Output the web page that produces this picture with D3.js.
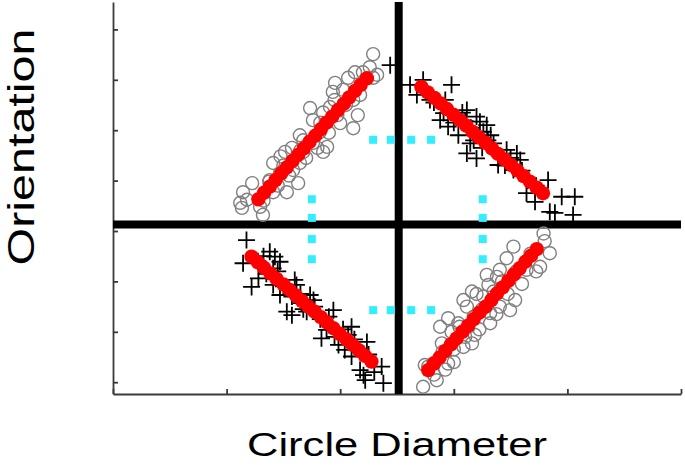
<!DOCTYPE html>
<meta charset="utf-8">
<style>
    body {
        margin: 0;
        padding: 0;
        background: #fff;
        font-family: "Liberation Sans", Arial, sans-serif;
    }

    svg {
        display: block;
    }

    .axis path,
    .axis line {
        stroke: #3a3a3a;
        stroke-width: 1.8px;
    }
</style>
<svg width="685" height="467"></svg>
<script src="https://d3js.org/d3.v7.min.js"></script>
<script>
    // ---- data (diameter 0..100, orientation in axis units) ----
    var xTicks = [0, 20, 40, 60, 80, 100];
    var yTicks = [-30, -20, -10, 0, 10, 20, 30, 40];
    var crossX = 50.3;
    var crossY = 1.3;

    // upper left: open grey circles
    var q2Circles = [
        [45.8, 35.1], [45.2, 32.5], [45.8, 30.4], [42.6, 31.5], [41.4, 30.4], [39.1, 29.4],
        [38.7, 27.6], [42.3, 26.0], [43.1, 23.0], [42.3, 20.4], [40.0, 21.4], [38.2, 24.6],
        [34.7, 24.4], [35.2, 22.0], [36.4, 19.6], [32.9, 19.0], [37.7, 16.7], [37.0, 15.7],
        [35.2, 17.5], [31.5, 16.5], [30.3, 15.7], [33.5, 15.7], [28.2, 13.5], [32.9, 13.5],
        [31.7, 12.1], [29.4, 11.5], [32.6, 9.5], [30.6, 7.7], [27.6, 10.1], [28.2, 7.7],
        [24.5, 9.5], [22.9, 7.7], [22.4, 5.6], [22.7, 4.6], [25.9, 4.8], [26.4, 3.2], [23.6, 6.2],
        [26.5, 6.0], [27.5, 9.8], [29.0, 9.0], [30.0, 13.0], [31.0, 11.0], [33.5, 18.0],
        [34.0, 14.5], [36.0, 16.5], [36.5, 21.5], [38.0, 19.5], [39.5, 23.0], [41.0, 25.0],
        [40.5, 28.0], [43.5, 27.0], [44.0, 31.5], [46.5, 31.0], [33.0, 16.0], [29.5, 14.8],
        [39.0, 26.0], [37.0, 23.5]
    ];
    var q2Fit = [
        [25.6, 6.3], [26.6, 7.6], [27.6, 8.8], [28.6, 10.1], [29.6, 11.4], [30.6, 12.6], [31.6, 13.9],
        [32.6, 15.1], [33.6, 16.4], [34.6, 17.7], [35.6, 18.9], [36.6, 20.2], [37.6, 21.5], [38.6, 22.7],
        [39.6, 24.0], [40.6, 25.2], [41.6, 26.5], [42.6, 27.8], [43.6, 29.0], [44.7, 30.3]
    ];

    // upper right: black crosses
    var q1Plus = [
        [48.8, 32.9], [52.3, 29.0], [54.6, 30.0], [59.6, 29.0], [55.8, 26.0], [57.6, 22.0],
        [59.0, 20.7], [62.3, 24.0], [64.0, 22.7], [64.6, 21.7], [65.8, 21.0], [60.8, 19.0],
        [62.9, 17.4], [62.3, 15.4], [64.0, 14.4], [67.0, 17.4], [67.8, 13.1], [69.3, 16.1],
        [71.1, 15.4], [71.7, 14.1], [70.5, 12.1], [76.6, 10.1], [72.8, 7.5], [74.3, 5.8],
        [79.0, 6.8], [81.3, 6.8], [81.0, 3.2], [76.9, 3.8], [58.2, 23.4], [65.2, 19.7], [77.8, 3.6],
        [56.5, 25.5], [58.5, 26.0], [60.0, 21.5], [61.5, 23.5], [63.0, 20.5], [63.5, 18.0],
        [65.0, 16.5], [66.5, 19.0], [68.0, 15.0], [69.0, 13.0], [70.0, 14.5], [72.0, 12.0],
        [73.0, 10.0], [74.5, 9.0], [53.5, 27.0], [62.0, 21.8], [66.0, 18.0]
    ];
    var q1Fit = [
        [54.3, 28.6], [55.4, 27.5], [56.6, 26.4], [57.7, 25.3], [58.8, 24.2], [59.9, 23.1], [61.1, 22.0],
        [62.2, 20.9], [63.3, 19.7], [64.4, 18.6], [65.6, 17.5], [66.7, 16.4], [67.8, 15.3], [68.9, 14.2],
        [70.1, 13.1], [71.2, 12.0], [72.3, 10.9], [73.4, 9.8], [74.6, 8.6], [75.7, 7.5]
    ];

    // lower left: black crosses
    var q3Plus = [
        [23.5, -1.8], [22.9, -6.4], [24.4, -11.1], [25.6, -9.4], [27.6, -4.1], [28.5, -5.1],
        [29.4, -6.1], [28.2, -7.4], [28.2, -10.7], [29.4, -12.7], [32.0, -9.7], [32.3, -10.7],
        [30.6, -16.0], [31.5, -16.7], [33.2, -14.3], [34.7, -12.7], [35.3, -13.7], [34.1, -16.0],
        [36.7, -21.3], [38.8, -15.7], [37.6, -19.6], [42.0, -19.0], [41.4, -20.6], [39.7, -22.6],
        [40.8, -23.6], [44.7, -22.0], [42.0, -24.9], [43.5, -27.6], [44.1, -28.6], [47.3, -26.9],
        [47.6, -30.2], [44.4, -29.6],
        [25.5, -6.0], [27.0, -8.5], [29.0, -8.0], [30.0, -11.0], [31.5, -13.0], [33.0, -12.5],
        [33.5, -15.5], [35.5, -15.0], [36.5, -17.5], [38.0, -17.0], [39.0, -21.0], [40.5, -19.5],
        [42.5, -21.5], [43.5, -24.0], [45.0, -24.5], [46.0, -28.0], [26.5, -5.0]
    ];
    var q3Fit = [
        [24.4, -5.1], [25.5, -6.2], [26.6, -7.3], [27.7, -8.4], [28.8, -9.5], [30.0, -10.6], [31.1, -11.7],
        [32.2, -12.8], [33.3, -13.9], [34.4, -15.0], [35.5, -16.0], [36.6, -17.1], [37.7, -18.2], [38.8, -19.3],
        [39.9, -20.4], [41.1, -21.5], [42.2, -22.6], [43.3, -23.7], [44.4, -24.8], [45.5, -25.9]
    ];

    // lower right: open grey circles
    var q4Circles = [
        [75.8, -0.5], [76.9, -4.4], [75.2, -7.1], [70.5, -3.1], [69.3, -5.4], [68.1, -7.7],
        [67.6, -9.1], [66.1, -10.7], [63.2, -12.0], [61.7, -13.7], [62.3, -15.0], [65.2, -13.0],
        [70.8, -13.7], [69.9, -15.7], [68.1, -15.0], [66.4, -16.3], [66.4, -18.3], [62.6, -19.0],
        [63.7, -20.6], [61.7, -23.0], [63.2, -22.3], [59.0, -17.3], [57.6, -19.0], [59.6, -20.0],
        [57.9, -22.3], [59.0, -26.3], [56.4, -26.3], [57.0, -29.6], [54.6, -30.9], [55.5, -26.9],
        [54.9, -26.6], [65.8, -8.7], [72.8, -7.7], [60.8, -18.3],
        [56.5, -28.5], [58.0, -24.0], [58.5, -27.5], [60.0, -23.5], [61.0, -19.0], [62.0, -21.0],
        [63.5, -17.0], [64.5, -19.5], [65.0, -15.5], [67.0, -12.0], [67.5, -16.5], [68.5, -10.0],
        [69.5, -12.5], [71.0, -8.0], [72.0, -10.5], [73.5, -4.5], [74.5, -8.0], [76.0, -2.0],
        [60.0, -26.0], [64.0, -12.5]
    ];
    var q4Fit = [
        [55.5, -27.6], [56.5, -26.3], [57.5, -25.1], [58.5, -23.8], [59.5, -22.5], [60.5, -21.3], [61.5, -20.0],
        [62.5, -18.8], [63.5, -17.5], [64.5, -16.2], [65.6, -15.0], [66.6, -13.7], [67.6, -12.4], [68.6, -11.2],
        [69.6, -9.9], [70.6, -8.6], [71.6, -7.4], [72.6, -6.1], [73.6, -4.9], [74.6, -3.6]
    ];

    // cyan dotted frame
    var cyanDots = [
        [45.8, 18.1], [48.9, 18.1], [52.5, 18.1], [56.0, 18.1],
        [45.8, -15.7], [48.9, -15.7], [52.5, -15.7], [56.0, -15.7],
        [35.0, 6.3], [35.0, 2.6], [35.0, -1.6], [35.0, -5.6],
        [65.1, 6.3], [65.1, 2.6], [65.1, -1.6], [65.1, -5.6]
    ];

    // ---- drawing ----
    var svg = d3.select("svg");

    var x = d3.scaleLinear().domain([0, 100]).range([113, 681]);
    var y = d3.scaleLinear().domain([-32.34, 45.44]).range([394, 2]);

    svg.append("g")
        .attr("class", "axis")
        .attr("transform", "translate(0," + y.range()[0] + ")")
        .call(d3.axisBottom(x).tickValues(xTicks).tickSize(-5).tickSizeOuter(0).tickFormat(""));

    svg.append("g")
        .attr("class", "axis")
        .attr("transform", "translate(" + x.range()[0] + ",0)")
        .call(d3.axisLeft(y).tickValues(yTicks).tickSize(-5).tickSizeOuter(0).tickFormat(""));

    // thick cross lines
    svg.append("line")
        .attr("x1", x(crossX)).attr("x2", x(crossX))
        .attr("y1", y.range()[1]).attr("y2", y.range()[0])
        .attr("stroke", "#000").attr("stroke-width", 8);

    svg.append("line")
        .attr("x1", x.range()[0]).attr("x2", x.range()[1])
        .attr("y1", y(crossY)).attr("y2", y(crossY))
        .attr("stroke", "#000").attr("stroke-width", 8);

    // cyan squares
    svg.append("g").selectAll("rect")
        .data(cyanDots)
        .enter().append("rect")
        .attr("x", function(d) { return x(d[0]) - 4; })
        .attr("y", function(d) { return y(d[1]) - 4; })
        .attr("width", 8)
        .attr("height", 8)
        .attr("fill", "#33eeff");

    // grey circles
    svg.append("g").selectAll("circle")
        .data(q2Circles.concat(q4Circles))
        .enter().append("circle")
        .attr("cx", function(d) { return x(d[0]); })
        .attr("cy", function(d) { return y(d[1]); })
        .attr("r", 6.5)
        .attr("fill", "none")
        .attr("stroke", "#808080")
        .attr("stroke-width", 1.4);

    // black crosses
    svg.append("g").selectAll("path")
        .data(q1Plus.concat(q3Plus))
        .enter().append("path")
        .attr("transform", function(d) { return "translate(" + x(d[0]) + "," + y(d[1]) + ")"; })
        .attr("d", "M-8.5,0H8.5M0,-8.5V8.5")
        .attr("stroke", "#000")
        .attr("stroke-width", 1.8);

    // red fitted points
    svg.append("g").selectAll("circle")
        .data(q2Fit.concat(q1Fit, q3Fit, q4Fit))
        .enter().append("circle")
        .attr("cx", function(d) { return x(d[0]); })
        .attr("cy", function(d) { return y(d[1]); })
        .attr("r", 7.2)
        .attr("fill", "#ff0000");

    // axis titles
    svg.append("text")
        .attr("x", 397)
        .attr("y", 456)
        .attr("text-anchor", "middle")
        .attr("font-size", 34)
        .attr("textLength", 300)
        .attr("lengthAdjust", "spacingAndGlyphs")
        .text("Circle Diameter");

    svg.append("text")
        .attr("transform", "translate(34,147) rotate(-90)")
        .attr("text-anchor", "middle")
        .attr("font-size", 36)
        .attr("textLength", 237)
        .attr("lengthAdjust", "spacingAndGlyphs")
        .text("Orientation");
</script>
